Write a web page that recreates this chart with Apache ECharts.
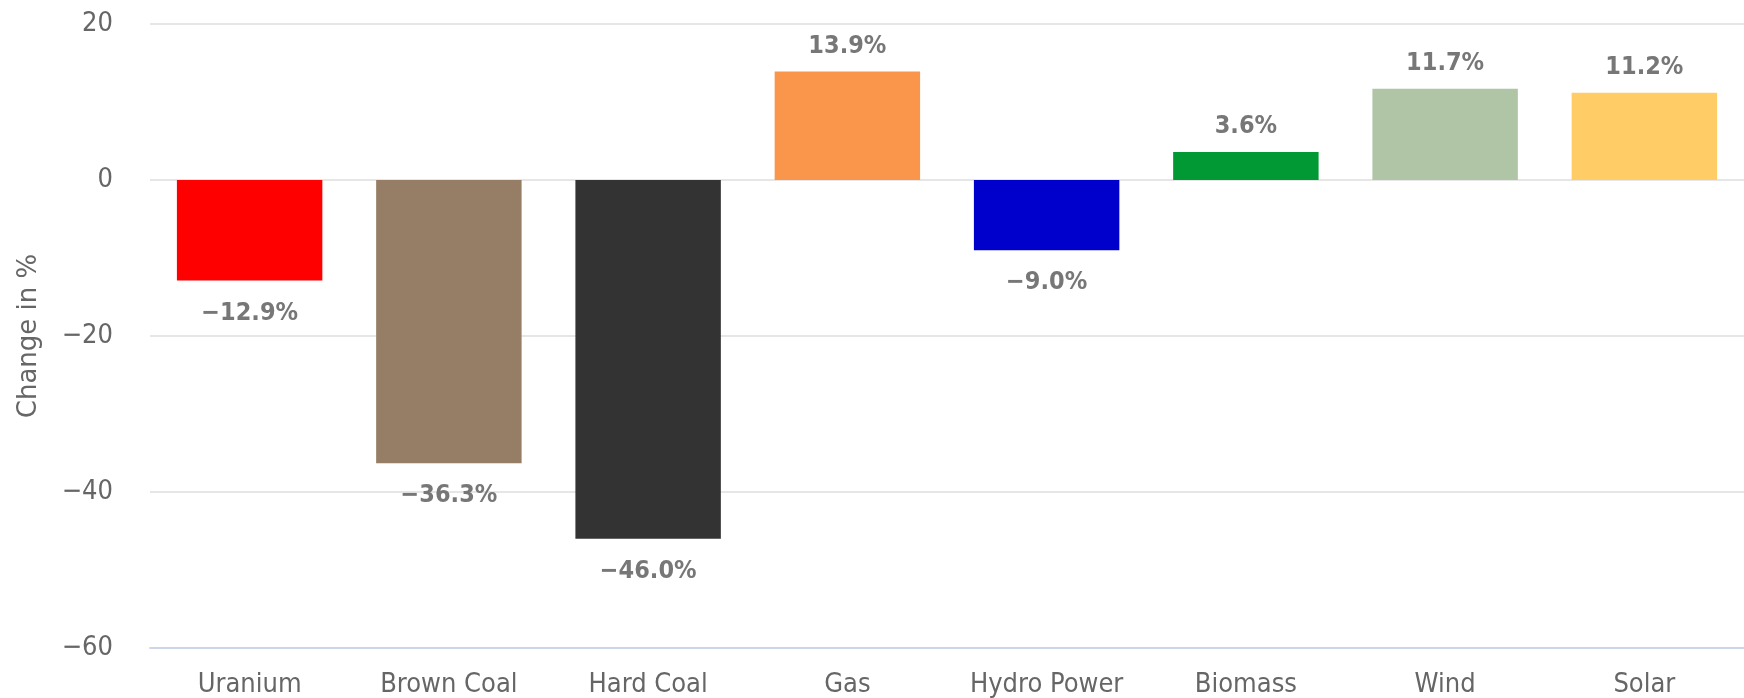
<!DOCTYPE html>
<html>
<head>
<meta charset="utf-8">
<script src="https://cdn.jsdelivr.net/npm/echarts@6/dist/echarts.min.js"></script>
<style>
html,body{margin:0;padding:0;background:#fff;}
#chart{width:1744px;height:698px;}
</style>
</head>
<body>
<div id="chart"></div>
<script>
const categories = ["Uranium", "Brown Coal", "Hard Coal", "Gas", "Hydro Power", "Biomass", "Wind", "Solar"];
const values = [-12.9, -36.3, -46.0, 13.9, -9.0, 3.6, 11.7, 11.2];
const barColors = ["#ff0000", "#967d65", "#333333", "#f9964b", "#0000cc", "#009933", "#afc5a5", "#ffcc66"];
const yTicks = [-60, -40, -20, 0, 20];
const yAxisName = "Change in %";

const minus = v => (v < 0 ? '\u2212' + Math.abs(v) : String(v));
const chart = echarts.init(document.getElementById('chart'));
const FONT = "'DejaVu Sans Condensed', 'DejaVu Sans'";
chart.setOption({
  animation: false,
  backgroundColor: '#ffffff',
  grid: { left: 150, right: -13, top: 24, bottom: 47, containLabel: false },
  xAxis: {
    type: 'category',
    data: categories,
    axisLine: { onZero: false, lineStyle: { color: '#ccd6eb', width: 2 } },
    axisTick: { show: false },
    axisLabel: { color: '#666666', fontSize: 27, fontFamily: FONT, margin: 23, interval: 0 }
  },
  yAxis: {
    type: 'value',
    min: yTicks[0],
    max: yTicks[yTicks.length - 1],
    interval: 20,
    name: yAxisName,
    nameLocation: 'middle',
    nameGap: 108,
    nameTextStyle: { color: '#666666', fontSize: 26, fontFamily: 'DejaVu Sans' },
    axisLine: { show: false },
    axisTick: { show: false },
    axisLabel: { color: '#666666', fontSize: 27, fontFamily: FONT, margin: 37, formatter: v => minus(v) },
    splitLine: { lineStyle: { color: '#e6e6e6', width: 2 } }
  },
  series: [{
    type: 'bar',
    barWidth: '73%',
    data: values.map((v, i) => ({
      value: v,
      itemStyle: { color: barColors[i] },
      label: { position: v >= 0 ? 'top' : 'bottom', distance: v >= 0 ? 13 : 20 }
    })),
    label: {
      show: true,
      color: '#777777',
      fontSize: 25,
      fontWeight: 'bold',
      fontFamily: FONT,
      formatter: p => (p.value < 0 ? '\u2212' + Math.abs(p.value).toFixed(1) : p.value.toFixed(1)) + '%'
    }
  }]
});
</script>
</body>
</html>
